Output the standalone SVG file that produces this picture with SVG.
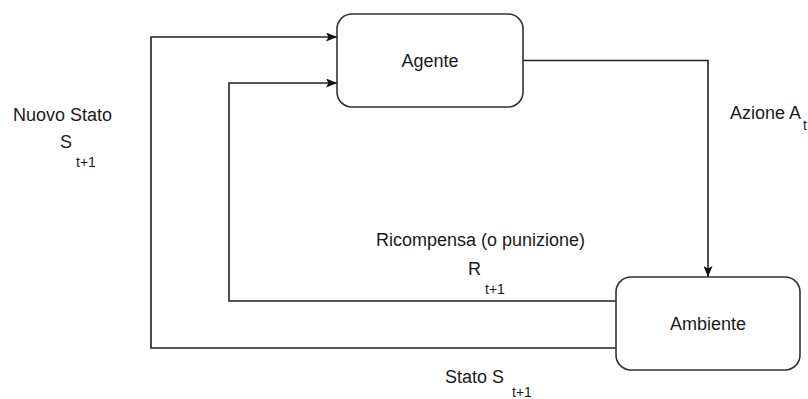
<svg xmlns="http://www.w3.org/2000/svg" width="808" height="399" viewBox="0 0 808 399">
  <style>
    .box { fill: #ffffff; stroke: #333333; stroke-width: 1.6; }
    .edge { fill: none; stroke: #222222; stroke-width: 1.6; }
    .lbl { font-family: "Liberation Sans", Arial, Helvetica, sans-serif; font-size: 18px; fill: #1a1a1a; }
    .sub { font-family: "Liberation Sans", Arial, Helvetica, sans-serif; font-size: 14px; fill: #1a1a1a; }
  </style>
  <defs>
    <marker id="arrow" markerUnits="userSpaceOnUse" markerWidth="11" markerHeight="9" viewBox="0 0 11 9" refX="11" refY="4.5" orient="auto">
      <path d="M0,0 L11,4.5 L0,9 L2.5,4.5 Z" fill="#111111"/>
    </marker>
  </defs>
  <rect width="808" height="399" fill="#ffffff"/>

  <!-- connectors -->
  <g id="connectors">
    <path class="edge" d="M523,60.5 H708 V277" marker-end="url(#arrow)"/>
    <path class="edge" d="M616,301 H229 V83 H337" marker-end="url(#arrow)"/>
    <path class="edge" d="M616,348 H151 V37 H337" marker-end="url(#arrow)"/>
  </g>

  <!-- nodes -->
  <g id="agente">
    <rect class="box" x="337" y="14" width="186" height="93" rx="15" ry="15"/>
    <text class="lbl" x="430" y="67" text-anchor="middle">Agente</text>
  </g>
  <g id="ambiente">
    <rect class="box" x="616" y="277" width="184" height="93" rx="15" ry="15"/>
    <text class="lbl" x="708" y="330" text-anchor="middle">Ambiente</text>
  </g>

  <!-- edge labels -->
  <g id="labels">
    <text class="lbl" x="13" y="121">Nuovo Stato</text>
    <text class="lbl" x="60" y="148">S</text>
    <text class="sub" x="76" y="167">t+1</text>

    <text class="lbl" x="730" y="119">Azione A</text>
    <text class="sub" x="803" y="130">t</text>

    <text class="lbl" x="376" y="246">Ricompensa (o punizione)</text>
    <text class="lbl" x="468" y="275">R</text>
    <text class="sub" x="485" y="294">t+1</text>

    <text class="lbl" x="445" y="383">Stato S</text>
    <text class="sub" x="512" y="397">t+1</text>
  </g>
</svg>
